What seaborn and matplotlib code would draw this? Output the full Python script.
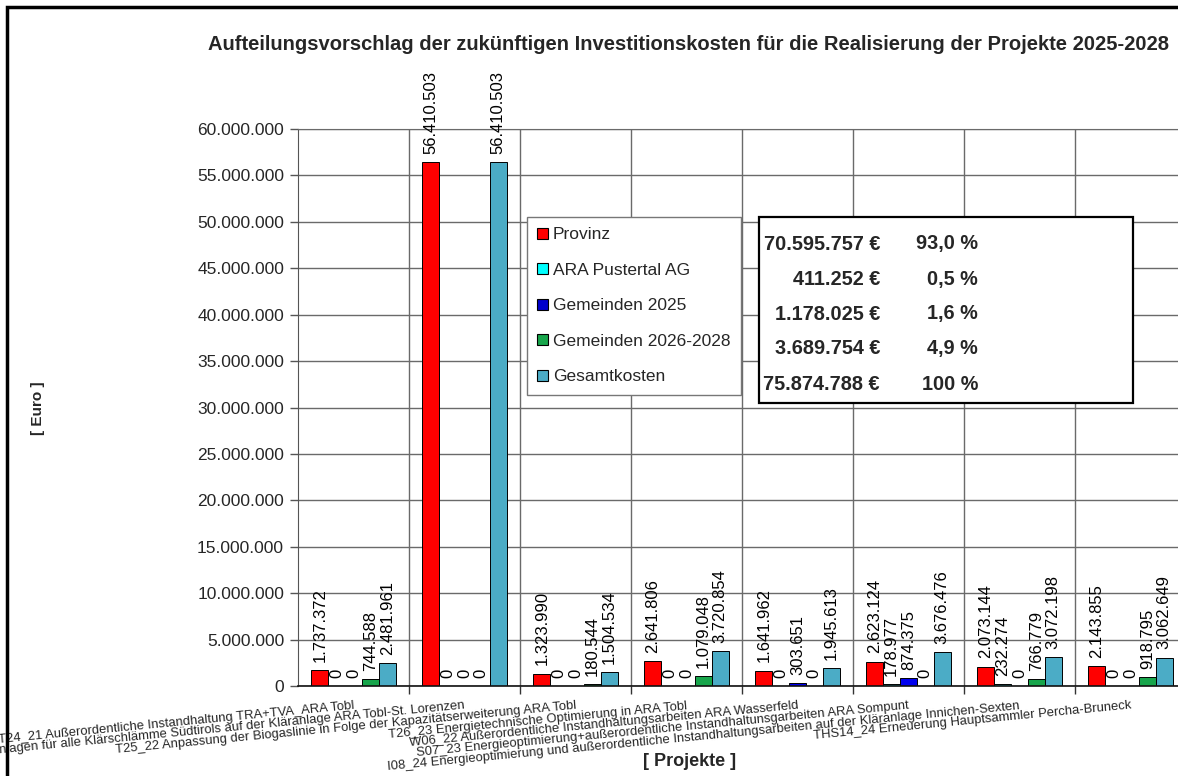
import matplotlib
matplotlib.use("Agg")
import matplotlib.pyplot as plt
import seaborn as sns
import pandas as pd
from matplotlib.patches import Patch, Rectangle
from matplotlib.ticker import FuncFormatter, MultipleLocator, FixedLocator

# ---------------- data ----------------
projects = [
    "T24_21 Außerordentliche Instandhaltung TRA+TVA_ARA Tobl",
    "T09_20 Trocknungsanlagen für alle Klärschlämme Südtirols auf der Kläranlage ARA Tobl-St. Lorenzen",
    "T25_22 Anpassung der Biogaslinie in Folge der Kapazitätserweiterung ARA Tobl",
    "T26_23 Energietechnische Optimierung in ARA Tobl",
    "W06_22 Außerordentliche Instandhaltungsarbeiten ARA Wasserfeld",
    "S07_23 Energieoptimierung+außerordentliche Instandhaltunsgarbeiten ARA Sompunt",
    "I08_24 Energieoptimierung und außerordentliche Instandhaltungsarbeiten auf der Kläranlage Innichen-Sexten",
    "THS14_24 Erneuerung Hauptsammler Percha-Bruneck",
]
series_names = ["Provinz", "ARA Pustertal AG", "Gemeinden 2025",
                "Gemeinden 2026-2028", "Gesamtkosten"]
provinz = [1737372, 56410503, 1323990, 2641806, 1641962, 2623124, 2073144, 2143855]
ara_pustertal = [0, 0, 0, 0, 0, 178977, 232274, 0]
gemeinden_2025 = [0, 0, 0, 0, 303651, 874375, 0, 0]
gemeinden_2026_2028 = [744588, 0, 180544, 1079048, 0, 0, 766779, 918795]
gesamtkosten = [2481961, 56410503, 1504534, 3720854, 1945613, 3676476, 3072198, 3062649]
summary_amounts = ["70.595.757 €", "411.252 €", "1.178.025 €", "3.689.754 €", "75.874.788 €"]
summary_percent = ["93,0 %", "0,5 %", "1,6 %", "4,9 %", "100 %"]
title = "Aufteilungsvorschlag der zukünftigen Investitionskosten für die Realisierung der Projekte 2025-2028"
colors = ["#FF0000", "#33CCCC", "#0000EE", "#17A54B", "#4BACC6"]
legend_colors = ["#FF0000", "#00FFFF", "#0000CC", "#17A54B", "#4BACC6"]

series_values = [provinz, ara_pustertal, gemeinden_2025, gemeinden_2026_2028, gesamtkosten]
rows = []
for name, vals in zip(series_names, series_values):
    for p, v in zip(projects, vals):
        rows.append({"Projekt": p, "Kategorie": name, "Wert": v})
df = pd.DataFrame(rows)

def fmt(v):
    return f"{v:,.0f}".replace(",", ".")

# ---------------- figure ----------------
sns.set_style("white")
plt.rcParams["font.family"] = ["Liberation Sans", "DejaVu Sans"]

W, H = 1178, 776
fig = plt.figure(figsize=(W / 100, H / 100), dpi=100)
fig.patch.set_facecolor("white")
ax = fig.add_axes([298 / W, (H - 686) / H, 888 / W, 557 / H])

sns.barplot(data=df, x="Projekt", y="Wert", hue="Kategorie", order=projects,
            hue_order=series_names, palette=colors, width=0.76,
            edgecolor="black", linewidth=0.7, errorbar=None, ax=ax, legend=False,
            saturation=1)

for cont in ax.containers:
    vals = [b.get_height() for b in cont]
    ax.bar_label(cont, labels=[fmt(v) for v in vals], rotation=90, padding=6,
                 fontsize=12, color="black")

ax.set_ylim(0, 60_000_000)
ax.set_xlim(-0.5, len(projects) - 0.5)
ax.yaxis.set_major_locator(MultipleLocator(5_000_000))
ax.yaxis.set_major_formatter(FuncFormatter(lambda v, p: fmt(v)))
ax.grid(axis="y", color="#6a6a6a", linewidth=1.0)
ax.set_axisbelow(True)
for xb in [i + 0.5 for i in range(len(projects) - 1)]:
    ax.axvline(xb, color="#6a6a6a", linewidth=1.0, zorder=0)

ax.tick_params(axis="y", direction="out", length=6, width=1, color="#555555",
               labelsize=12.5, pad=4, left=True)
ax.set_xticks(range(len(projects)))
ax.set_xticklabels(projects, fontsize=9.4, rotation=5.5, ha="right", va="top",
                   rotation_mode="anchor")
ax.tick_params(axis="x", which="major", length=0, pad=10)
ax.xaxis.set_minor_locator(FixedLocator([i + 0.5 for i in range(len(projects))]))
ax.tick_params(axis="x", which="minor", direction="out", length=6, width=1,
               color="#333333", bottom=True)
ax.spines["right"].set_visible(False)
ax.spines["top"].set_color("#6a6a6a")
ax.spines["left"].set_color("#555555")
ax.spines["bottom"].set_color("#111111")
ax.spines["bottom"].set_linewidth(1.2)
ax.set_xlabel("")
ax.set_ylabel("")

# axis titles and chart title
fig.text(689 / W, 1 - 45 / H, title, ha="center", va="center", fontsize=14.5,
         fontweight="bold")
fig.text(38 / W, 1 - 408 / H, "[ Euro ]", rotation=90, ha="center", va="center",
         fontsize=11, fontweight="bold")
fig.text(690 / W, 1 - 762 / H, "[ Projekte ]", ha="center", va="center",
         fontsize=13, fontweight="bold")

# legend
handles = [Patch(facecolor=c, edgecolor="black", linewidth=0.8) for c in legend_colors]
leg = fig.legend(handles, series_names, loc="upper left",
                 bbox_to_anchor=(527 / W, 1 - 217 / H), bbox_transform=fig.transFigure,
                 fontsize=12.5, frameon=True, fancybox=False, framealpha=1,
                 edgecolor="#777777", handlelength=0.6, handleheight=0.6,
                 handletextpad=0.3, labelspacing=1.18, borderpad=0.6,
                 borderaxespad=0)
leg.get_frame().set_linewidth(1.0)

# summary box
fig.patches.append(Rectangle((759 / W, 1 - 403 / H), (1133 - 759) / W, (403 - 217) / H,
                             transform=fig.transFigure, facecolor="white",
                             edgecolor="black", linewidth=1.6, zorder=5))
row_y = [244, 279, 314, 349, 384]
for y, a, p in zip(row_y, summary_amounts, summary_percent):
    fig.text(880 / W, 1 - y / H, a, ha="right", va="center", fontsize=14.3,
             fontweight="bold", zorder=6)
    fig.text(978 / W, 1 - y / H, p, ha="right", va="center", fontsize=14.3,
             fontweight="bold", zorder=6)

# outer chart border
fig.patches.append(Rectangle((7 / W, -0.05), 1.1, 1 - 7 / H + 0.05,
                             transform=fig.transFigure, facecolor="none",
                             edgecolor="black", linewidth=2.5, zorder=10))

fig.savefig("out.png", dpi=100)
